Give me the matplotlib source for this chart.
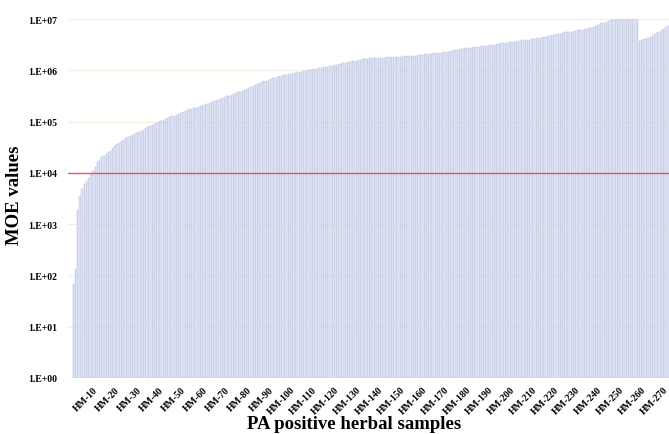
import numpy as np
import matplotlib
matplotlib.use("Agg")
import matplotlib.pyplot as plt
from matplotlib.ticker import FixedLocator, NullLocator

# MOE value of every PA positive herbal sample, sorted low to high
moe = [
    6.8e1, 1.3e2, 1.9e3, 3.5e3, 4.8e3, 6.0e3, 6.9e3, 7.9e3, 9.1e3, 1.07e4,
    1.3e4, 1.6e4, 1.8e4, 2.0e4, 2.1e4, 2.3e4, 2.5e4, 2.7e4, 3.0e4, 3.3e4,
    3.6e4, 3.9e4, 4.2e4, 4.4e4, 4.7e4, 5.0e4, 5.2e4, 5.5e4, 5.8e4, 6.1e4,
    6.3e4, 6.6e4, 6.9e4, 7.4e4, 7.8e4, 8.1e4, 8.5e4, 8.9e4, 9.3e4, 9.8e4,
    1.02e5, 1.07e5, 1.12e5, 1.17e5, 1.23e5, 1.26e5, 1.29e5, 1.35e5, 1.38e5, 1.45e5,
    1.51e5, 1.58e5, 1.66e5, 1.74e5, 1.78e5, 1.82e5, 1.86e5, 1.95e5, 2.0e5, 2.1e5,
    2.14e5, 2.24e5, 2.29e5, 2.4e5, 2.5e5, 2.57e5, 2.69e5, 2.75e5, 2.88e5, 2.95e5,
    3.09e5, 3.16e5, 3.24e5, 3.39e5, 3.55e5, 3.72e5, 3.8e5, 3.98e5, 4.17e5, 4.37e5,
    4.57e5, 4.68e5, 4.9e5, 5.13e5, 5.37e5, 5.75e5, 5.89e5, 6.17e5, 6.31e5, 6.46e5,
    6.76e5, 6.92e5, 7.08e5, 7.41e5, 7.59e5, 7.76e5, 7.94e5, 8.13e5, 8.32e5, 8.51e5,
    8.71e5, 8.91e5, 9.12e5, 9.33e5, 9.4e5, 9.55e5, 9.77e5, 1.0e6, 1.02e6, 1.05e6,
    1.06e6, 1.07e6, 1.1e6, 1.12e6, 1.15e6, 1.16e6, 1.17e6, 1.2e6, 1.23e6, 1.26e6,
    1.29e6, 1.32e6, 1.35e6, 1.38e6, 1.41e6, 1.45e6, 1.48e6, 1.51e6, 1.52e6, 1.55e6,
    1.58e6, 1.62e6, 1.66e6, 1.67e6, 1.69e6, 1.70e6, 1.71e6, 1.72e6, 1.73e6, 1.74e6,
    1.75e6, 1.76e6, 1.77e6, 1.78e6, 1.79e6, 1.80e6, 1.81e6, 1.82e6, 1.83e6, 1.85e6,
    1.86e6, 1.87e6, 1.88e6, 1.89e6, 1.9e6, 1.91e6, 1.94e6, 1.96e6, 1.99e6, 2.01e6,
    2.04e6, 2.06e6, 2.08e6, 2.1e6, 2.13e6, 2.15e6, 2.17e6, 2.19e6, 2.22e6, 2.25e6,
    2.28e6, 2.31e6, 2.36e6, 2.41e6, 2.46e6, 2.51e6, 2.56e6, 2.62e6, 2.68e6, 2.71e6,
    2.74e6, 2.77e6, 2.8e6, 2.83e6, 2.86e6, 2.89e6, 2.92e6, 2.95e6, 2.99e6, 3.03e6,
    3.07e6, 3.12e6, 3.17e6, 3.22e6, 3.3e6, 3.33e6, 3.36e6, 3.39e6, 3.44e6, 3.5e6,
    3.56e6, 3.62e6, 3.68e6, 3.74e6, 3.8e6, 3.84e6, 3.88e6, 3.92e6, 3.98e6, 4.05e6,
    4.1e6, 4.2e6, 4.3e6, 4.35e6, 4.45e6, 4.5e6, 4.6e6, 4.7e6, 4.8e6, 4.9e6,
    5.0e6, 5.1e6, 5.2e6, 5.35e6, 5.5e6, 5.55e6, 5.6e6, 5.7e6, 5.8e6, 5.9e6,
    6.0e6, 6.1e6, 6.2e6, 6.3e6, 6.4e6, 6.6e6, 6.8e6, 7.1e6, 7.4e6, 7.6e6,
    7.9e6, 8.3e6, 8.5e6, 8.9e6, 9.3e6, 9.5e6, 9.7e6, 9.9e6, 1.0e7, 1.0e7,
    1.0e7, 1.0e7, 1.0e7, 1.0e7, 1.0e7, 1.0e7, 1.0e7, 1.0e7, 3.8e6, 3.9e6,
    4.0e6, 4.15e6, 4.3e6, 4.5e6, 4.7e6, 5.0e6, 5.3e6, 5.6e6, 6.0e6, 6.4e6,
    6.9e6, 7.4e6,
]
samples = np.arange(1, len(moe) + 1)

label_pos = list(range(10, 271, 10))
labels = ["HM-%d" % n for n in label_pos]

y_ticks = [1e0, 1e1, 1e2, 1e3, 1e4, 1e5, 1e6, 1e7]
y_labels = ["1.E+00", "1.E+01", "1.E+02", "1.E+03", "1.E+04", "1.E+05", "1.E+06", "1.E+07"]
threshold = 1e4

plt.rcParams["font.family"] = ["Liberation Serif", "DejaVu Serif"]
plt.rcParams["font.weight"] = "bold"

fig = plt.figure(figsize=(6.69, 4.35), dpi=100)
ax = fig.add_axes([0.102, 0.129, 0.898, 0.825])

# faint decade lines behind the bars
for t in y_ticks[1:]:
    ax.axhline(t, color="#f3efdf", lw=0.8, zorder=0)

ax.bar(samples, moe, width=0.62, bottom=1, color="#e5eaf7",
       edgecolor="#a7b4da", linewidth=0.3, zorder=2)
ax.axhline(threshold, color="#f0384c", lw=1.0, alpha=0.85, zorder=3)

ax.set_yscale("log")
ax.set_ylim(1, 1e7)
ax.set_xlim(-1.3, 272.5)

ax.yaxis.set_major_locator(FixedLocator(y_ticks))
ax.yaxis.set_minor_locator(NullLocator())
ax.set_yticklabels(y_labels, fontsize=7, fontweight="bold")
ax.set_xticks(label_pos)
ax.set_xticklabels(labels, rotation=45, ha="right", rotation_mode="anchor",
                   fontsize=7, fontweight="bold")
ax.tick_params(axis="both", length=0)
ax.tick_params(axis="y", pad=8)
ax.tick_params(axis="x", pad=5)

for s in ax.spines.values():
    s.set_visible(False)

fig.text(0.021, 0.55, "MOE values", rotation=90, ha="center", va="center",
         fontsize=13.5, fontweight="bold")
fig.text(0.53, 0.024, "PA positive herbal samples", ha="center", va="center",
         fontsize=13.5, fontweight="bold")

fig.savefig("out.png", dpi=100)
